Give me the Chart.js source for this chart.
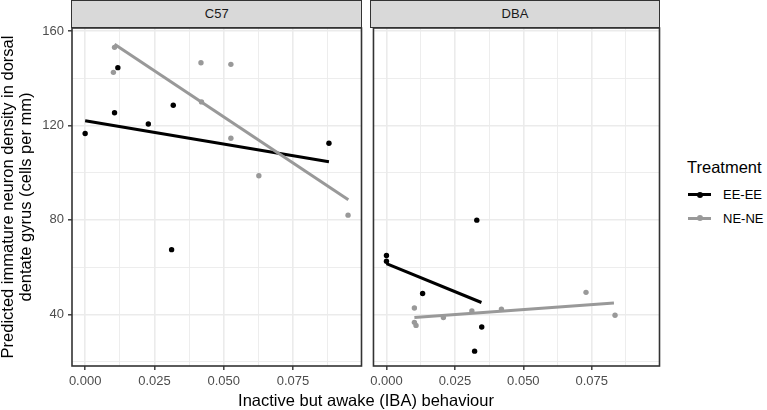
<!DOCTYPE html>
<html>
<head>
<meta charset="utf-8">
<script src="https://cdn.jsdelivr.net/npm/chart.js@4"></script>
<style>
  body { margin: 0; width: 767px; height: 410px; position: relative; background: #fff; overflow: hidden;
         font-family: Arial, "Liberation Sans", sans-serif; }
  canvas { position: absolute; top: 0; }
  .strip { position: absolute; top: 0; height: 28px; box-sizing: border-box; background: #D9D9D9;
           border: 1.6px solid #333; color: #1A1A1A; font-size: 13px; text-align: center; line-height: 26px; }
  .ytitle { position: absolute; left: -184px; top: 179px; width: 400px; height: 36px; transform: rotate(-90deg);
            text-align: center; font-size: 16.5px; line-height: 18px; color: #000; }
  .xtitle { position: absolute; left: 166px; top: 390px; width: 400px; text-align: center; font-size: 16.5px;
            line-height: 20px; color: #000; }
  .legend { position: absolute; left: 687px; top: 157px; width: 80px; white-space: nowrap; }
  .legend .title { font-size: 16.5px; line-height: 20px; color: #000; margin-bottom: 6px; }
  .legend .item { position: relative; height: 23.5px; font-size: 13px; line-height: 23.5px; color: #000; }
  .legend .key { position: absolute; left: 1px; top: 10px; width: 23px; height: 3px; }
  .legend .dot { position: absolute; left: 8.5px; top: -1.5px; width: 6px; height: 6px; border-radius: 50%; }
  .legend .lbl { position: absolute; left: 36px; top: 0; }
</style>
</head>
<body>
<canvas id="c57" width="366" height="410" style="left:0"></canvas>
<canvas id="dba" width="298" height="410" style="left:366px"></canvas>
<div id="strip0" class="strip" style="left:71.2px;width:291.1px"></div>
<div id="strip1" class="strip" style="left:369.7px;width:290.6px"></div>
<div class="ytitle">Predicted immature neuron density in dorsal<br>dentate gyrus (cells per mm)</div>
<div class="xtitle">Inactive but awake (IBA) behaviour</div>
<div class="legend" id="legend"></div>

<script>
  // facets, groups and axis ticks
  const PANELS = ['C57', 'DBA'];
  const GROUPS = ['EE-EE', 'NE-NE'];
  const GROUP_COLORS = ['#000000', '#999999'];
  const X_TICKS = [0, 0.025, 0.05, 0.075];
  const X_MINOR = [0.0125, 0.0375, 0.0625, 0.0875];
  const Y_TICKS = [40, 80, 120, 160];
  const Y_MINOR = [20, 60, 100, 140];

  // C57 observations
  const C57_EE_X = [0.000, 0.0106, 0.0118, 0.0228, 0.0318, 0.0312, 0.0880];
  const C57_EE_Y = [116.6, 125.4, 144.5, 120.6, 128.6, 67.4, 112.5];
  const C57_NE_X = [0.0102, 0.0106, 0.0418, 0.0420, 0.0526, 0.0526, 0.0627, 0.0949];
  const C57_NE_Y = [142.5, 153.1, 146.6, 130.0, 145.9, 114.6, 98.7, 82.0];
  // C57 fitted lines
  const C57_EE_FIT_X = [0.000, 0.088];
  const C57_EE_FIT_Y = [122.0, 104.6];
  const C57_NE_FIT_X = [0.0106, 0.095];
  const C57_NE_FIT_Y = [154.4, 88.5];

  // DBA observations
  const DBA_EE_X = [0.000, 0.000, 0.0132, 0.0330, 0.0322, 0.0348];
  const DBA_EE_Y = [64.9, 62.5, 48.8, 79.9, 24.4, 34.6];
  const DBA_NE_X = [0.0102, 0.0102, 0.0108, 0.0208, 0.0312, 0.0420, 0.0729, 0.0835];
  const DBA_NE_Y = [42.7, 36.6, 35.3, 38.6, 41.4, 42.2, 49.3, 39.6];
  // DBA fitted lines
  const DBA_EE_FIT_X = [0.000, 0.0347];
  const DBA_EE_FIT_Y = [61.5, 45.0];
  const DBA_NE_FIT_X = [0.0102, 0.0831];
  const DBA_NE_FIT_Y = [38.6, 44.8];

  const X_RANGE = [-0.00475, 0.09975];
  const Y_RANGE = [18.1, 161.3];

  const pts = (xs, ys) => xs.map((x, i) => ({ x: x, y: ys[i] }));

  function groupSets(eeX, eeY, neX, neY, eeFx, eeFy, neFx, neFy) {
    const fits = [[eeFx, eeFy], [neFx, neFy]];
    const obs = [[eeX, eeY], [neX, neY]];
    const sets = [];
    // lines on top of points
    fits.forEach((f, g) => sets.push({
      label: GROUPS[g], data: pts(f[0], f[1]), showLine: true, borderColor: GROUP_COLORS[g],
      borderWidth: 3, pointRadius: 0, order: 1 - g
    }));
    obs.forEach((o, g) => sets.push({
      label: GROUPS[g], data: pts(o[0], o[1]), showLine: false, backgroundColor: GROUP_COLORS[g],
      borderWidth: 0, pointRadius: 2.7, order: 3 - g
    }));
    return sets;
  }

  const panelBorder = {
    id: 'panelBorder',
    afterDatasetsDraw(chart) {
      const a = chart.chartArea, ctx = chart.ctx;
      ctx.save();
      ctx.strokeStyle = '#333333';
      ctx.lineWidth = 1.6;
      ctx.strokeRect(a.left, a.top, a.right - a.left, a.bottom - a.top);
      ctx.restore();
    }
  };

  const isMajorX = v => X_TICKS.some(t => Math.abs(t - v) < 1e-9);
  const isMajorY = v => Y_TICKS.includes(v);

  function makePanel(id, datasets, showY, yWidth, rightPad) {
    new Chart(document.getElementById(id), {
      type: 'scatter',
      data: { datasets: datasets },
      plugins: [panelBorder],
      options: {
        responsive: false,
        animation: false,
        devicePixelRatio: 1,
        layout: { padding: { top: 28, right: rightPad, bottom: 0, left: 0 } },
        plugins: { legend: { display: false }, tooltip: { enabled: false } },
        scales: {
          x: {
            type: 'linear', min: X_RANGE[0], max: X_RANGE[1],
            afterBuildTicks: s => { s.ticks = X_TICKS.concat(X_MINOR).sort((a, b) => a - b).map(v => ({ value: v })); },
            afterFit: s => { s.height = 44; },
            border: { display: false },
            grid: {
              color: '#EBEBEB',
              lineWidth: c => isMajorX(c.tick.value) ? 1.6 : 0.9,
              drawTicks: true, tickLength: 4, tickWidth: 1.4,
              tickColor: c => isMajorX(c.tick.value) ? '#333333' : 'rgba(0,0,0,0)'
            },
            ticks: {
              autoSkip: false, maxRotation: 0, padding: 4, color: '#4D4D4D',
              font: { family: 'Arial, "Liberation Sans", sans-serif', size: 13 },
              callback: v => isMajorX(v) ? v.toFixed(3) : ''
            }
          },
          y: {
            type: 'linear', min: Y_RANGE[0], max: Y_RANGE[1],
            afterBuildTicks: s => { s.ticks = Y_TICKS.concat(Y_MINOR).sort((a, b) => a - b).map(v => ({ value: v })); },
            afterFit: s => { s.width = yWidth; },
            border: { display: false },
            grid: {
              color: '#EBEBEB',
              lineWidth: c => isMajorY(c.tick.value) ? 1.6 : 0.9,
              drawTicks: showY, tickLength: 4, tickWidth: 1.4,
              tickColor: c => isMajorY(c.tick.value) ? '#333333' : 'rgba(0,0,0,0)'
            },
            ticks: {
              display: showY, autoSkip: false, padding: 4, color: '#4D4D4D',
              font: { family: 'Arial, "Liberation Sans", sans-serif', size: 13 },
              callback: v => isMajorY(v) ? String(v) : ''
            }
          }
        }
      }
    });
  }

  makePanel('c57', groupSets(C57_EE_X, C57_EE_Y, C57_NE_X, C57_NE_Y,
    C57_EE_FIT_X, C57_EE_FIT_Y, C57_NE_FIT_X, C57_NE_FIT_Y), true, 72, 4.5);
  makePanel('dba', groupSets(DBA_EE_X, DBA_EE_Y, DBA_NE_X, DBA_NE_Y,
    DBA_EE_FIT_X, DBA_EE_FIT_Y, DBA_NE_FIT_X, DBA_NE_FIT_Y), false, 4.5, 4.5);

  // strip labels and legend
  PANELS.forEach((p, i) => { document.getElementById('strip' + i).textContent = p; });
  const legend = document.getElementById('legend');
  legend.innerHTML = '<div class="title">Treatment</div>' + GROUPS.map((g, i) =>
    `<div class="item"><div class="key" style="background:${GROUP_COLORS[i]}">
       <div class="dot" style="background:${GROUP_COLORS[i]}"></div></div>
     <span class="lbl">${g}</span></div>`).join('');
</script>
</body>
</html>
